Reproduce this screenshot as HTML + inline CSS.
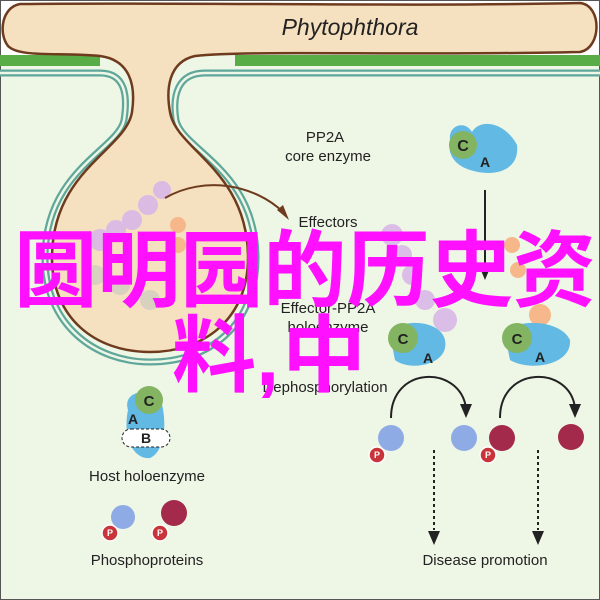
<!DOCTYPE html>
<html><head><meta charset="utf-8"><style>
body{margin:0;width:600px;height:600px;overflow:hidden;background:#eef6e6}
svg{display:block}
text{font-family:"Liberation Sans",sans-serif;fill:#222}
.cjk{font-family:"Liberation Sans","Noto Sans CJK SC",sans-serif;fill:#ff10ff;font-weight:bold}
</style></head><body>
<svg width="600" height="600" viewBox="0 0 600 600">
<rect x="0" y="0" width="600" height="600" fill="#eef6e6" stroke="#555" stroke-width="2"/>
<rect x="1" y="1" width="598" height="54" fill="#fff"/>
<rect x="0" y="55" width="100" height="11" fill="#58ad47"/>
<rect x="235" y="55" width="365" height="11" fill="#58ad47"/>
<!-- membrane -->
<path d="M0 73 L100 73 C125 73 128 95 124 120 C118 150 45 170 45 258 C45 325 95 362 150 362 C210 362 256 325 256 258 C256 170 182 150 176 120 C172 95 178 73 205 73 L600 73" fill="none" stroke="#5fa79a" stroke-width="7"/>
<path d="M0 73 L100 73 C125 73 128 95 124 120 C118 150 45 170 45 258 C45 325 95 362 150 362 C210 362 256 325 256 258 C256 170 182 150 176 120 C172 95 178 73 205 73 L600 73" fill="none" stroke="#eef6e6" stroke-width="2.5"/>
<!-- hypha -->
<path d="M20 4 C200 2 400 7 580 3 C602 5 602 48 580 52 C400 56 250 50 195 56 C168 62 166 90 170 112 C176 150 248 170 248 258 C248 318 205 352 150 352 C95 352 52 318 52 258 C52 170 126 150 132 112 C136 85 130 60 100 56 C60 52 20 58 8 46 C-2 33 2 7 20 4 Z" fill="#f5e0bf" stroke="#6e3b1e" stroke-width="2.5"/>
<text x="350" y="35" font-size="23" font-style="italic" text-anchor="middle">Phytophthora</text>
<!-- effector blobs -->
<g fill="#d9b8e8" opacity="0.9">
<circle cx="100" cy="240" r="11"/><circle cx="116" cy="230" r="10"/><circle cx="132" cy="220" r="10"/><circle cx="148" cy="205" r="10"/><circle cx="162" cy="190" r="9"/>
<circle cx="392" cy="235" r="11"/><circle cx="402" cy="255" r="10"/><circle cx="412" cy="275" r="10"/><circle cx="425" cy="300" r="10"/><circle cx="445" cy="320" r="12"/>
</g>
<g fill="#c8c8c0" opacity="0.6"><circle cx="95" cy="275" r="10"/><circle cx="120" cy="285" r="10"/><circle cx="150" cy="300" r="10"/></g>
<g fill="#f6b88a"><circle cx="178" cy="225" r="8"/><circle cx="178" cy="245" r="8"/><circle cx="512" cy="245" r="8"/><circle cx="518" cy="270" r="8"/><circle cx="540" cy="315" r="11"/></g>
<!-- arrow effectors -->
<path d="M165 198 C205 175 255 185 283 212" fill="none" stroke="#6e3b1e" stroke-width="2"/>
<path d="M277 210 L289 220 L283 205 Z" fill="#6e3b1e"/>
<text x="328" y="227" font-size="15" text-anchor="middle">Effectors</text>
<text x="325" y="142" font-size="15" text-anchor="middle">PP2A</text>
<text x="328" y="161" font-size="15" text-anchor="middle">core enzyme</text>
<!-- PP2A core -->
<path d="M450 140 C448 125 465 120 472 132 C480 118 505 122 517 145 C520 170 495 178 470 170 C455 165 447 155 450 140Z" fill="#62b9e3"/>
<circle cx="463" cy="145" r="14" fill="#83b461"/>
<text x="463" y="151" font-size="16" font-weight="bold" text-anchor="middle">C</text>
<text x="485" y="167" font-size="14" font-weight="bold" text-anchor="middle">A</text>
<line x1="485" y1="190" x2="485" y2="272" stroke="#222" stroke-width="2"/>
<path d="M480 268 L485 280 L490 268Z" fill="#222"/>
<!-- holoenzymes -->
<g><path d="M390 335 C395 318 440 318 445 340 C450 365 410 372 395 360Z" fill="#62b9e3"/><circle cx="403" cy="338" r="15" fill="#83b461"/><text x="403" y="344" font-size="15" font-weight="bold" text-anchor="middle">C</text><text x="428" y="363" font-size="14" font-weight="bold" text-anchor="middle">A</text></g>
<g><path d="M505 335 C510 318 560 318 570 340 C572 365 530 372 510 360Z" fill="#62b9e3"/><circle cx="517" cy="338" r="15" fill="#83b461"/><text x="517" y="344" font-size="15" font-weight="bold" text-anchor="middle">C</text><text x="540" y="362" font-size="14" font-weight="bold" text-anchor="middle">A</text></g>
<text x="328" y="313" font-size="15" text-anchor="middle">Effector-PP2A</text>
<text x="328" y="332" font-size="15" text-anchor="middle">holoenzyme</text>
<text x="325" y="392" font-size="15" text-anchor="middle">Dephosphorylation</text>
<!-- curved arrows -->
<path d="M391 418 C391 365 460 365 466 408" fill="none" stroke="#222" stroke-width="2"/><path d="M460 404 L466 418 L472 404Z" fill="#222"/>
<path d="M500 418 C500 365 570 365 575 408" fill="none" stroke="#222" stroke-width="2"/><path d="M569 404 L575 418 L581 404Z" fill="#222"/>
<!-- phosphoproteins -->
<g fill="#8fabe6"><circle cx="391" cy="438" r="13"/><circle cx="464" cy="438" r="13"/><circle cx="123" cy="517" r="12"/></g>
<g fill="#a32a4a"><circle cx="502" cy="438" r="13"/><circle cx="571" cy="437" r="13"/><circle cx="174" cy="513" r="13"/></g>
<g fill="#c9343a" stroke="#fff" stroke-width="1.5"><circle cx="377" cy="455" r="8"/><circle cx="488" cy="455" r="8"/><circle cx="110" cy="533" r="8"/><circle cx="160" cy="533" r="8"/></g>
<g font-size="9" font-weight="bold" text-anchor="middle"><text x="377" y="458" style="fill:#fff">P</text><text x="488" y="458" style="fill:#fff">P</text><text x="110" y="536" style="fill:#fff">P</text><text x="160" y="536" style="fill:#fff">P</text></g>
<line x1="434" y1="450" x2="434" y2="530" stroke="#222" stroke-width="2" stroke-dasharray="3,3"/><path d="M428 531 L434 545 L440 531Z" fill="#222"/>
<line x1="538" y1="450" x2="538" y2="530" stroke="#222" stroke-width="2" stroke-dasharray="3,3"/><path d="M532 531 L538 545 L544 531Z" fill="#222"/>
<!-- host holoenzyme -->
<path d="M128 410 C122 390 150 388 160 398 C168 420 165 452 150 458 C135 460 122 440 128 410Z" fill="#62b9e3"/>
<circle cx="149" cy="400" r="14" fill="#83b461"/>
<text x="149" y="406" font-size="15" font-weight="bold" text-anchor="middle">C</text>
<text x="133" y="424" font-size="14" font-weight="bold" text-anchor="middle">A</text>
<rect x="122" y="429" width="48" height="18" rx="9" fill="#fff" stroke="#222" stroke-dasharray="3,2"/>
<text x="146" y="443" font-size="14" font-weight="bold" text-anchor="middle">B</text>
<text x="147" y="481" font-size="15" text-anchor="middle">Host holoenzyme</text>
<text x="147" y="565" font-size="15" text-anchor="middle">Phosphoproteins</text>
<text x="485" y="565" font-size="15" text-anchor="middle">Disease promotion</text>
<!-- overlay text -->
<text class="cjk" x="14" y="300" font-size="84" textLength="582" lengthAdjust="spacingAndGlyphs">圆明园的历史资</text>
<text class="cjk" x="172" y="385" font-size="84">料</text>
<text class="cjk" x="256" y="385" font-size="84">,</text>
<text class="cjk" x="282" y="385" font-size="84">中</text>
</svg>
</body></html>
